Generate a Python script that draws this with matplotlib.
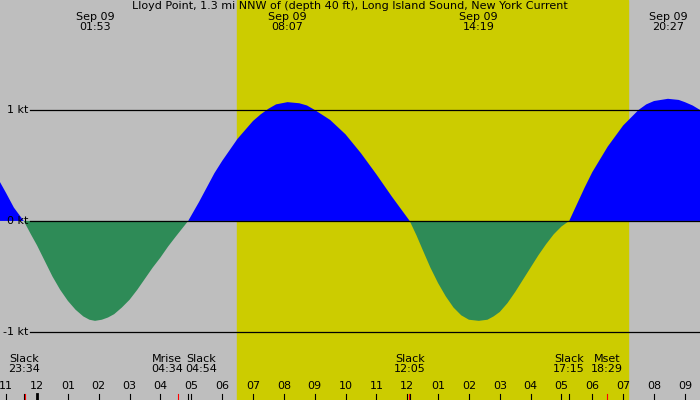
import matplotlib
matplotlib.use("Agg")
import matplotlib.pyplot as plt
import numpy as np

# hours since midnight Sep 09, current speed (kt); + flood, - ebb
hours = [-1.2, -1.0, -0.75, -0.43, -0.2, 0, 0.25, 0.5, 0.75, 1, 1.25, 1.5, 1.7, 1.88, 2.1, 2.3, 2.5, 2.75, 3, 3.25, 3.5, 3.75, 4, 4.25, 4.5, 4.9,
         5.25, 5.5, 5.75, 6, 6.5, 7, 7.25, 7.5, 7.75, 8.12, 8.5, 8.75, 9, 9.5, 10, 10.5, 11, 11.5, 12.08,
         12.3, 12.5, 12.75, 13, 13.25, 13.5, 13.75, 14.0, 14.32, 14.6, 14.8, 15, 15.25, 15.5, 15.75, 16, 16.25, 16.5, 16.75, 17.0, 17.25,
         17.5, 17.75, 18, 18.5, 19, 19.5, 19.75, 20.0, 20.45, 20.8, 21, 21.25, 21.49]
speed = [0.35, 0.25, 0.12, 0.0, -0.12, -0.22, -0.36, -0.5, -0.62, -0.72, -0.8, -0.86, -0.89, -0.9, -0.89, -0.87, -0.84, -0.78, -0.71, -0.62, -0.52, -0.42, -0.33, -0.23, -0.14, 0.0,
         0.17, 0.3, 0.43, 0.54, 0.74, 0.9, 0.96, 1.01, 1.05, 1.07, 1.06, 1.04, 1.0, 0.91, 0.78, 0.61, 0.42, 0.22, 0.0,
         -0.13, -0.26, -0.42, -0.56, -0.68, -0.78, -0.85, -0.89, -0.9, -0.89, -0.86, -0.82, -0.74, -0.64, -0.53, -0.42, -0.31, -0.21, -0.12, -0.05, 0.0,
         0.15, 0.3, 0.44, 0.67, 0.86, 1.0, 1.05, 1.08, 1.1, 1.09, 1.07, 1.04, 1.0]
top_labels = ["Sep 09\n01:53", "Sep 09\n08:07", "Sep 09\n14:19", "Sep 09\n20:27"]
top_hours = [1.88, 8.12, 14.32, 20.45]
ev_labels = ["Slack\n23:34", "Mrise\n04:34", "Slack\n04:54", "Slack\n12:05", "Slack\n17:15", "Mset\n18:29"]
ev_hours = [-0.43, 4.57, 4.9, 12.08, 17.25, 18.48]
ev_align = ["center", "right", "left", "center", "center", "center"]
tick_hours = list(range(-1, 22))
tick_labels = ["11", "12"] + ["%02d" % h for h in range(1, 13)] + ["%02d" % h for h in range(1, 10)]
title = "Lloyd Point, 1.3 mi NNW of (depth 40 ft), Long Island Sound, New York Current"
sunrise, sunset = 6.48, 19.16

fig = plt.figure(figsize=(7, 4), dpi=100)
fig.patch.set_facecolor("#BEBEBE")
ax = fig.add_axes([0, 0, 1, 1])
ax.set_facecolor("#BEBEBE")
x0, x1 = -1.2, 21.49
ax.set_xlim(x0, x1)
ax.set_ylim(-1.613, 1.99)
ax.axis("off")
ax.axvspan(sunrise, sunset, color="#CCCC00", zorder=0)
h = np.array(hours); s = np.array(speed)
ax.fill_between(h, 0, s, where=s >= 0, color="#0000FF", interpolate=True, lw=0, zorder=2)
ax.fill_between(h, 0, s, where=s <= 0, color="#2E8B57", interpolate=True, lw=0, zorder=2)
for v, lab in [(1, "1 kt"), (0, "0 kt"), (-1, "-1 kt")]:
    ax.axhline(v, xmin=30 / 700, color="black", lw=0.9, zorder=3)
    ax.text(28 / 700, v, lab, transform=ax.get_yaxis_transform(), fontsize=8, ha="right", va="center", zorder=4)
ax.text(0.5, 0.998, title, transform=ax.transAxes, ha="center", va="top", fontsize=8)
for t, lab in zip(top_hours, top_labels):
    ax.text(t, 1.88, lab, ha="center", va="top", fontsize=8, linespacing=1.0)
for t, lab, al in zip(ev_hours, ev_labels, ev_align):
    xt = t + (0.16 if al == "right" else (-0.1 if al == "left" else 0))
    ax.text(xt, -1.2, lab, ha=al, va="top", fontsize=8, linespacing=1.0, multialignment="center")
for t, lab in zip(tick_hours, tick_labels):
    ax.text(t, -1.49, lab, ha="center", va="center", fontsize=8)
    ax.plot([t, t], [-1.613, -1.56], color="black", lw=2 if t == 0 else 0.8)
for t in [-0.43, 4.9, 12.08, 17.25]:
    ax.plot([t, t], [-1.613, -1.56], color="black", lw=0.8)
for t in [-0.4, 4.57, 12.05, 18.48]:
    ax.plot([t, t], [-1.613, -1.56], color="red", lw=0.8)
fig.savefig("out.png", dpi=100, facecolor=fig.get_facecolor())
